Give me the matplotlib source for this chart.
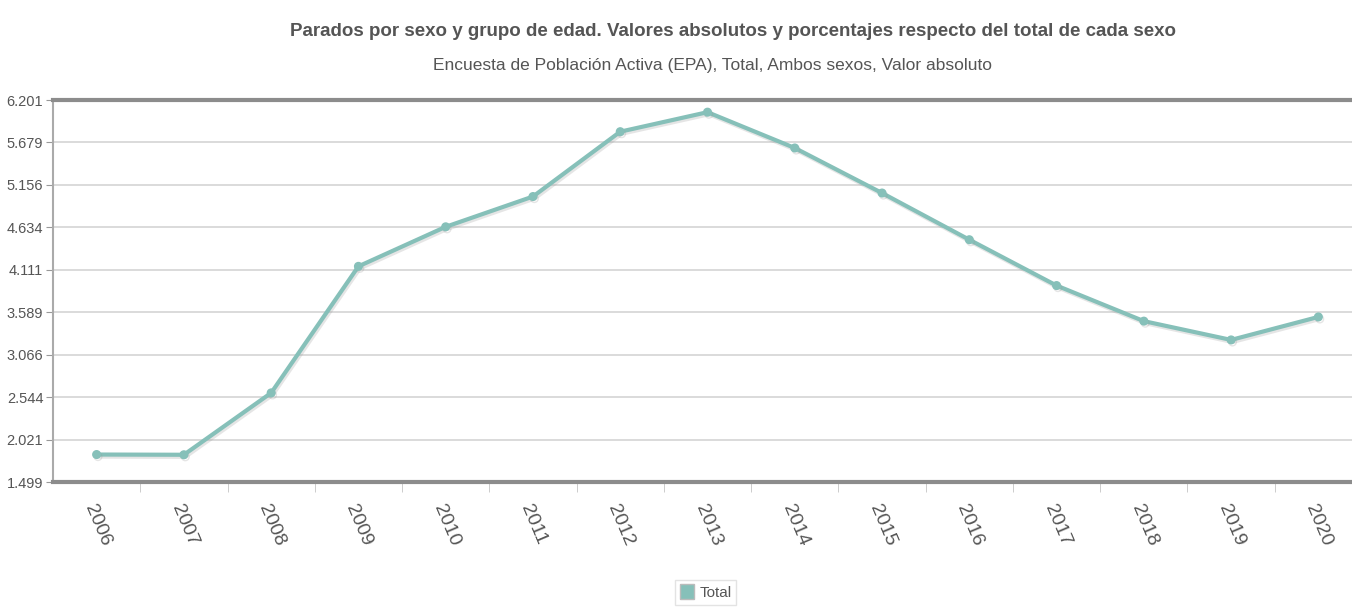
import matplotlib.pyplot as plt
import matplotlib.patheffects as pe
from matplotlib.ticker import FixedLocator, FuncFormatter
import numpy as np

years = ['2006', '2007', '2008', '2009', '2010', '2011', '2012', '2013',
         '2014', '2015', '2016', '2017', '2018', '2019', '2020']
total = [1837.1, 1834.2, 2595.9, 4153.5, 4640.1, 5012.7, 5811.0, 6051.1,
         5610.4, 5056.0, 4481.2, 3916.9, 3479.1, 3247.8, 3530.9]
y_ticks = [1499, 2021, 2544, 3066, 3589, 4111, 4634, 5156, 5679, 6201]

plt.rcParams['font.family'] = ['Liberation Sans', 'DejaVu Sans']

line_color = '#86c0b9'
text_color = '#555555'

fig = plt.figure(figsize=(13.52, 6.08), dpi=100)
# plot area runs a little past the right edge, as in the original
ax = fig.add_axes([53 / 1352, 126 / 608, 1309 / 1352, 382 / 608])

x = np.arange(len(years))
ax.plot(x, total, color=line_color, linewidth=3, marker='o', markersize=5.5,
        markeredgecolor=line_color, zorder=3, solid_capstyle='round',
        path_effects=[pe.SimpleLineShadow(offset=(1, -1.5), shadow_color='#999999', alpha=0.25), pe.Normal()])

ax.set_xlim(-0.5, len(years) - 0.5)
ax.set_ylim(y_ticks[0], y_ticks[-1])

ax.yaxis.set_major_locator(FixedLocator(y_ticks))
ax.yaxis.set_major_formatter(FuncFormatter(lambda v, p: f'{int(round(v)):,}'.replace(',', '.')))
ax.grid(axis='y', color='#d4d4d4', linewidth=1.2)
ax.set_axisbelow(True)

ax.set_xticks(x)
ax.set_xticklabels(years, rotation=-67, ha='left', va='top', rotation_mode='anchor')
ax.set_xticks(np.arange(len(years) - 1) + 0.5, minor=True)
ax.tick_params(axis='x', which='major', length=0, pad=14, labelsize=14, labelcolor=text_color)
ax.tick_params(axis='x', which='minor', length=7, color='#c4c4c4', direction='out')
ax.tick_params(axis='y', length=5, color='#999999', labelsize=10.5, labelcolor=text_color, pad=2)

for s in ['top', 'bottom']:
    ax.spines[s].set_color('#8c8c8c')
    ax.spines[s].set_linewidth(3)
ax.spines['left'].set_color('#aaaaaa')
ax.spines['left'].set_linewidth(1.5)
ax.spines['right'].set_visible(False)

fig.text(0.5425, 0.949, 'Parados por sexo y grupo de edad. Valores absolutos y porcentajes respecto del total de cada sexo',
         ha='center', va='center', fontsize=13.5, fontweight='bold', color=text_color)
fig.text(0.527, 0.893, 'Encuesta de Población Activa (EPA), Total, Ambos sexos, Valor absoluto',
         ha='center', va='center', fontsize=12.5, color=text_color)

leg = fig.legend([plt.Rectangle((0, 0), 1, 1, facecolor=line_color, edgecolor='#bbbbbb')], ['Total'],
                 loc='center', bbox_to_anchor=(0.522, 0.026), frameon=True, fontsize=11,
                 handlelength=0.9, handleheight=1.1, handletextpad=0.4, borderpad=0.3,
                 fancybox=False, labelcolor=text_color)
leg.get_frame().set_edgecolor('#dddddd')

fig.savefig('out.png', dpi=100)
